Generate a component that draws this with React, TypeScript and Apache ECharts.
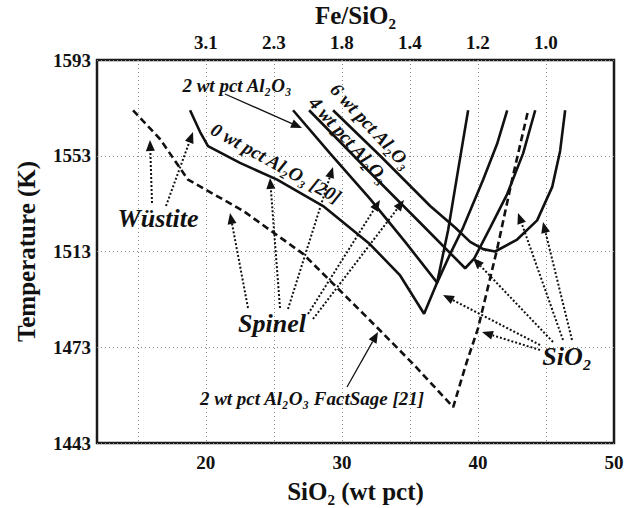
import React, { useEffect, useRef } from 'react';
import * as echarts from 'echarts';

// ---- Axis ticks ----
const sio2GridValues = [15, 20, 25, 30, 35, 40, 45];
const sio2LabelValues = [20, 30, 40, 50];
const feSio2Positions = [20, 25, 30, 35, 40, 45];
const feSio2Labels = ['3.1', '2.3', '1.8', '1.4', '1.2', '1.0'];
// The reference's temperature ticks are equally spaced (40 K steps); its bottom
// tick is printed "1443" although it sits one 40 K step below 1473.
const tempTickValues = [1433, 1473, 1513, 1553, 1593];
const tempTickLabels = ['1443', '1473', '1513', '1553', '1593'];

// ---- Series: SiO2 (wt pct) and temperature (K) ----
const factSageSiO2 = [14.65, 16.63, 17.96, 18.69, 22.74, 27.15, 32.81, 35.24, 38.18, 39.13, 40.01, 41.41, 42.51, 43.69];
const factSageT = [1572, 1560, 1549, 1543, 1530, 1512, 1480, 1466, 1448, 1466, 1481, 1514, 1543, 1572];

const al0SiO2 = [18.84, 19.57, 20.16, 22.51, 25.24, 28.62, 32.07, 34.28, 36.04, 37.0, 37.81, 38.54, 39.28];
const al0T = [1572, 1563, 1557, 1550, 1543, 1532, 1516, 1503, 1487, 1500, 1522, 1547, 1572];

const al2SiO2 = [26.41, 29.13, 32.07, 34.65, 37.0, 37.96, 38.91, 40.38, 41.41, 42.15];
const al2T = [1572, 1554, 1535, 1517, 1500, 1512, 1523, 1543, 1558, 1572];

const al4SiO2 = [27.59, 32.07, 35.75, 39.06, 39.72, 40.9, 42.15, 43.32, 44.21];
const al4T = [1572, 1546, 1525, 1506, 1510, 1523, 1537, 1554, 1572];

const al6SiO2 = [29.35, 32.81, 36.49, 38.32, 39.43, 40.38, 41.26, 42.88, 44.35, 45.46, 46.04, 46.41];
const al6T = [1572, 1553, 1532, 1523, 1517, 1514, 1513, 1518, 1526, 1540, 1555, 1572];

const FONT = '"Liberation Serif", "Times New Roman", serif';
const INK = '#111';

function arrow(x1: number, y1: number, x2: number, y2: number, dotted: boolean): any[] {
  const dx = x2 - x1;
  const dy = y2 - y1;
  const len = Math.hypot(dx, dy);
  const ux = dx / len;
  const uy = dy / len;
  const hl = 11;
  const hw = 4.5;
  const bx = x2 - ux * hl;
  const by = y2 - uy * hl;
  return [
    {
      type: 'line',
      shape: { x1, y1, x2: bx, y2: by },
      style: { stroke: INK, lineWidth: dotted ? 2 : 1.3, lineDash: dotted ? [2, 2] : null },
      z: 10,
    },
    {
      type: 'polygon',
      shape: { points: [[x2, y2], [bx - uy * hw, by + ux * hw], [bx + uy * hw, by - ux * hw]] },
      style: { fill: INK },
      z: 10,
    },
  ];
}

function label(text: string, x: number, y: number, size: number, rotDeg = 0): any {
  return {
    type: 'text',
    x,
    y,
    rotation: (-rotDeg * Math.PI) / 180,
    z: 11,
    style: {
      text,
      fontFamily: FONT,
      fontSize: size,
      fontWeight: 'bold',
      fontStyle: 'italic',
      fill: INK,
      align: 'center',
      verticalAlign: 'middle',
    },
  };
}

function lineSeries(name: string, xs: number[], ts: number[], dashed = false): any {
  return {
    type: 'line',
    name,
    data: xs.map((x, i) => [x, ts[i]]),
    showSymbol: false,
    symbol: 'none',
    silent: true,
    z: 3,
    lineStyle: { color: INK, width: 2.6, type: dashed ? [7, 4] : 'solid' },
  };
}

export default function App() {
  const ref = useRef<HTMLDivElement>(null);

  useEffect(() => {
    document.body.style.margin = '0';
    if (!ref.current) return;
    const chart = echarts.init(ref.current, undefined, { renderer: 'svg' });

    const axisLabelStyle = { fontFamily: FONT, fontWeight: 'bold', fontSize: 19, color: INK };
    const axisNameStyle = { fontFamily: FONT, fontWeight: 'bold', fontSize: 25, color: INK };
    const gridLineStyle = { type: [1, 3], color: '#888', width: 1 };

    const graphic: any[] = [
      label('2 wt pct Al₂O₃', 237, 85, 19),
      ...arrow(225, 94, 302, 128, false),
      label('0 wt pct Al₂O₃ [20]', 276, 163, 19, 29),
      label('6 wt pct Al₂O₃', 371, 126, 19, 47),
      label('4 wt pct Al₂O₃', 349, 140, 19, 48),
      label('Wüstite', 158, 218, 26),
      ...arrow(152, 203, 150, 140, true),
      ...arrow(166, 206, 193, 132, true),
      label('Spinel', 272, 323, 26),
      ...arrow(248, 308, 230, 213, true),
      ...arrow(280, 308, 270, 178, true),
      ...arrow(288, 309, 333, 167, true),
      ...arrow(308, 314, 380, 200, true),
      ...arrow(313, 319, 404, 200, true),
      label('2 wt pct Al₂O₃ FactSage [21]', 312, 398, 19),
      ...arrow(347, 387, 378, 332, false),
      label('SiO₂', 567, 356, 26),
      ...arrow(553, 342, 473, 258, true),
      ...arrow(540, 345, 443, 295, true),
      ...arrow(540, 350, 482, 332, true),
      ...arrow(563, 340, 518, 213, true),
      ...arrow(572, 340, 543, 222, true),
    ];

    chart.setOption({
      animation: false,
      backgroundColor: '#fff',
      grid: {
        left: 97,
        right: 16,
        top: 60,
        bottom: 65,
        show: true,
        borderColor: '#1a1a1a',
        borderWidth: 2.5,
        backgroundColor: 'transparent',
        containLabel: false,
        outerBoundsMode: 'none',
      },
      xAxis: [
        {
          type: 'value',
          position: 'bottom',
          min: 12,
          max: 50,
          name: 'SiO₂ (wt pct)',
          nameLocation: 'middle',
          nameGap: 36,
          nameTextStyle: axisNameStyle,
          axisLine: { show: false },
          axisTick: { show: false, customValues: sio2GridValues },
          axisLabel: { ...axisLabelStyle, margin: 10, customValues: sio2LabelValues },
          splitLine: { show: true, lineStyle: gridLineStyle },
        },
        {
          type: 'value',
          position: 'top',
          min: 12,
          max: 50,
          name: 'Fe/SiO₂',
          nameLocation: 'middle',
          nameGap: 32,
          nameTextStyle: axisNameStyle,
          axisLine: { show: false },
          axisTick: { show: false, customValues: feSio2Positions },
          axisLabel: {
            ...axisLabelStyle,
            margin: 8,
            customValues: feSio2Positions,
            formatter: (v: number) => {
              const i = feSio2Positions.indexOf(v);
              return i >= 0 ? feSio2Labels[i] : '';
            },
          },
          splitLine: { show: false },
        },
      ],
      yAxis: {
        type: 'value',
        min: 1433,
        max: 1593,
        name: 'Temperature (K)',
        nameLocation: 'middle',
        nameGap: 58,
        nameTextStyle: axisNameStyle,
        axisLine: { show: false },
        axisTick: { show: false, customValues: tempTickValues },
        axisLabel: {
          ...axisLabelStyle,
          margin: 6,
          customValues: tempTickValues,
          formatter: (v: number) => {
            const i = tempTickValues.indexOf(v);
            return i >= 0 ? tempTickLabels[i] : '';
          },
        },
        splitLine: { show: true, lineStyle: gridLineStyle },
      },
      series: [
        lineSeries('2 wt pct Al2O3 FactSage [21]', factSageSiO2, factSageT, true),
        lineSeries('0 wt pct Al2O3 [20]', al0SiO2, al0T),
        lineSeries('2 wt pct Al2O3', al2SiO2, al2T),
        lineSeries('4 wt pct Al2O3', al4SiO2, al4T),
        lineSeries('6 wt pct Al2O3', al6SiO2, al6T),
      ],
      graphic,
    });

    return () => {
      chart.dispose();
    };
  }, []);

  return <div ref={ref} style={{ width: 630, height: 508 }} />;
}
